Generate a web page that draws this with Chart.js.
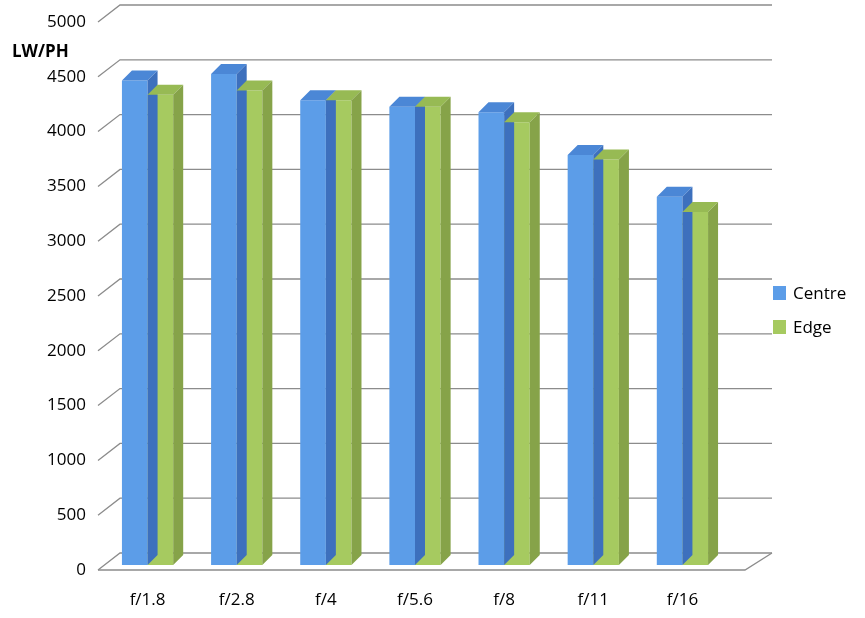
<!DOCTYPE html>
<html>
<head>
<meta charset="utf-8">
<script src="https://cdn.jsdelivr.net/npm/chart.js@4/dist/chart.umd.min.js"></script>
<style>
  body { margin: 0; background: #fff; }
  #wrap { width: 865px; height: 618px; }
</style>
</head>
<body>
<div id="wrap"><canvas id="chart"></canvas></div>
<script>
const categories = ["f/1.8", "f/2.8", "f/4", "f/5.6", "f/8", "f/11", "f/16"]
const centreValues = [4420, 4480, 4240, 4180, 4130, 3740, 3360]
const edgeValues = [4290, 4330, 4240, 4180, 4040, 3700, 3220]
const yTicks = [0, 500, 1000, 1500, 2000, 2500, 3000, 3500, 4000, 4500, 5000]

const FONT = "'Open Sans', 'Liberation Sans', sans-serif"
const faces = [
  { front: "#5c9de8", top: "#4b87d6", side: "#3d70bd" },
  { front: "#a6ca60", top: "#97ba54", side: "#86a349" }
]
const DX = 10, DY = 10

// grid, walls, labels and 3D faces
const threeD = {
  id: "threeD",
  beforeDatasetsDraw(chart) {
    const ctx = chart.ctx
    const y = chart.scales.y
    ctx.save()
    ctx.strokeStyle = "#8c8c8c"
    ctx.lineWidth = 1.3
    yTicks.forEach((v) => {
      const py = y.getPixelForValue(v)
      ctx.beginPath()
      ctx.moveTo(98, py + 5)
      ctx.lineTo(120, py - 12)
      ctx.lineTo(772, py - 12)
      ctx.stroke()
    })
    const p0 = y.getPixelForValue(0)
    ctx.beginPath()
    ctx.moveTo(98, p0 + 5)
    ctx.lineTo(745, p0 + 5)
    ctx.lineTo(772, p0 - 12)
    ctx.stroke()
    // tick labels
    ctx.fillStyle = "#000"
    ctx.font = "17px " + FONT
    ctx.textAlign = "right"
    ctx.textBaseline = "middle"
    yTicks.forEach((v) => ctx.fillText(String(v), 86, y.getPixelForValue(v) + 5))
    ctx.textAlign = "center"
    chart.getDatasetMeta(0).data.forEach((bar, i) => {
      const x = chart.scales.x.getPixelForValue(i)
      ctx.fillText(categories[i], x, 600)
    })
    ctx.textAlign = "left"
    ctx.font = "bold 17px " + FONT
    ctx.fillText("LW/PH", 12, 52)
    // legend
    ctx.font = "17px " + FONT
    chart.data.datasets.forEach((ds, i) => {
      const ly = 293 + i * 34
      ctx.fillStyle = faces[i].front
      ctx.fillRect(773, ly - 7, 13, 14)
      ctx.fillStyle = "#000"
      ctx.fillText(ds.label, 793, ly + 1)
    })
    ctx.restore()
  },
  afterDatasetsDraw(chart) {
    const ctx = chart.ctx
    ctx.save()
    chart.data.datasets.forEach((ds, di) => {
      chart.getDatasetMeta(di).data.forEach((bar) => {
        const l = bar.x - bar.width / 2, r = bar.x + bar.width / 2
        const t = bar.y, b = bar.base
        ctx.fillStyle = faces[di].top
        ctx.beginPath()
        ctx.moveTo(l, t); ctx.lineTo(l + DX, t - DY); ctx.lineTo(r + DX, t - DY); ctx.lineTo(r, t)
        ctx.closePath(); ctx.fill()
        ctx.fillStyle = faces[di].side
        ctx.beginPath()
        ctx.moveTo(r, t); ctx.lineTo(r + DX, t - DY); ctx.lineTo(r + DX, b - DY); ctx.lineTo(r, b)
        ctx.closePath(); ctx.fill()
      })
    })
    ctx.restore()
  }
}

new Chart(document.getElementById("chart"), {
  type: "bar",
  data: {
    labels: categories,
    datasets: [
      { label: "Centre", data: centreValues, backgroundColor: faces[0].front },
      { label: "Edge", data: edgeValues, backgroundColor: faces[1].front }
    ]
  },
  options: {
    responsive: true,
    maintainAspectRatio: false,
    animation: false,
    layout: { padding: { left: 103, right: 138, top: 17, bottom: 53 } },
    datasets: { bar: { categoryPercentage: 0.575, barPercentage: 1 } },
    scales: {
      x: { display: false },
      y: { display: false, min: 0, max: 5000 }
    },
    plugins: { legend: { display: false }, tooltip: { enabled: false } }
  },
  plugins: [threeD]
})
</script>
</body>
</html>
